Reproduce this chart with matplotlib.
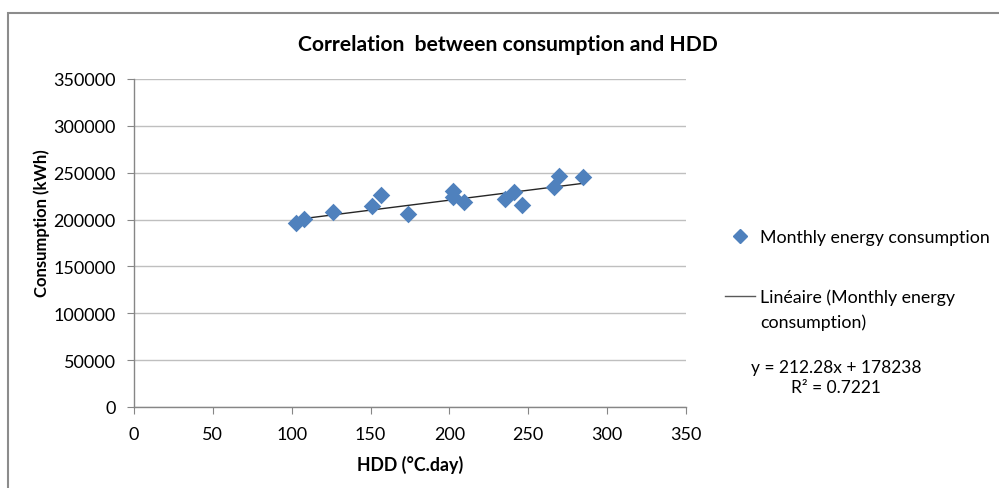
import matplotlib
matplotlib.use("Agg")
import matplotlib.pyplot as plt
from matplotlib.lines import Line2D
from matplotlib.patches import Rectangle
import numpy as np

## Data ##

hdd = [102.7, 107.8, 126.2, 150.9, 156.6, 173.7, 202.3, 202.3, 209.3,
       235.3, 241.0, 246.0, 266.3, 269.5, 284.7]
consumption = [195900, 200200, 207700, 214100, 225900, 205600, 230200, 223800,
               218400, 221600, 229100, 215200, 234500, 246300, 245200]

slope = 212.28
intercept = 178238
r2 = 0.7221

x_ticks = [0, 50, 100, 150, 200, 250, 300, 350]
y_ticks = [0, 50000, 100000, 150000, 200000, 250000, 300000, 350000]

## Style ##

plt.rcParams['font.family'] = ['Lato', 'DejaVu Sans']
blue = '#4f81bd'
grid_gray = '#bfbfbf'
axis_gray = '#868686'

fig = plt.figure(figsize=(9.99, 4.89), dpi=100)
ax = fig.add_axes([134/999, 1 - 408/489, (686 - 134)/999, (408 - 80)/489])

## Points and trend line ##

ax.scatter(hdd, consumption, marker='D', s=80, color=blue, zorder=3, linewidths=0)
xs = np.array([min(hdd), max(hdd)])
ax.plot(xs, slope*xs + intercept, color='#262626', lw=1, zorder=2)

ax.set_xlim(0, 350)
ax.set_ylim(0, 350000)
ax.set_xticks(x_ticks)
ax.set_yticks(y_ticks)
ax.set_xticklabels([str(v) for v in x_ticks])
ax.set_yticklabels([str(v) for v in y_ticks])
ax.tick_params(axis='both', direction='out', length=5, color=axis_gray,
               labelsize=13, pad=8)
ax.tick_params(axis='x', pad=9)

ax.grid(axis='y', color=grid_gray, lw=1)
ax.set_axisbelow(True)
for side in ['top', 'right']:
    ax.spines[side].set_visible(False)
for side in ['left', 'bottom']:
    ax.spines[side].set_color(axis_gray)
    ax.spines[side].set_linewidth(1)

ax.set_xlabel('HDD (°C.day)', fontsize=12.8, fontweight='bold')
ax.xaxis.set_label_coords((410 - 134)/552, -(456 - 408)/328)
ax.set_ylabel('Consumption (kWh)', fontsize=12, fontweight='bold', va='center')
ax.yaxis.set_label_coords(-(134 - 42)/552, (408 - 223)/328)

fig.text(508/999, 1 - 45/489, 'Correlation  between consumption and HDD',
         fontsize=15.2, fontweight='bold', ha='center', va='center')

## Legend + equation ##

handles = [Line2D([], [], marker='D', ls='none', color=blue, ms=7),
           Line2D([], [], color='#595959', lw=1)]
labels = ['Monthly energy consumption', 'Linéaire (Monthly energy']
fig.legend(handles, labels, loc='upper left', bbox_to_anchor=(725/999, 1 - 230/489),
           frameon=False, fontsize=12.8, labelspacing=2.43, handlelength=1.7,
           handletextpad=0.28, borderpad=0, borderaxespad=0)
fig.text(760/999, 1 - 323/489, 'consumption)', fontsize=12.8, ha='left', va='center')

fig.text(836/999, 1 - 378/489, 'y = %.2fx + %d\nR² = %.4f' % (slope, intercept, r2),
         fontsize=12.5, ha='center', va='center', multialignment='center',
         linespacing=1.25)

## Outer chart frame ##

fig.patches.append(Rectangle((8/999, -0.1), 1.2, 1 - 14/489 + 0.1,
                             transform=fig.transFigure, fill=False,
                             edgecolor='#8c8c8c', lw=1.5))

fig.savefig('out.png', dpi=100)
